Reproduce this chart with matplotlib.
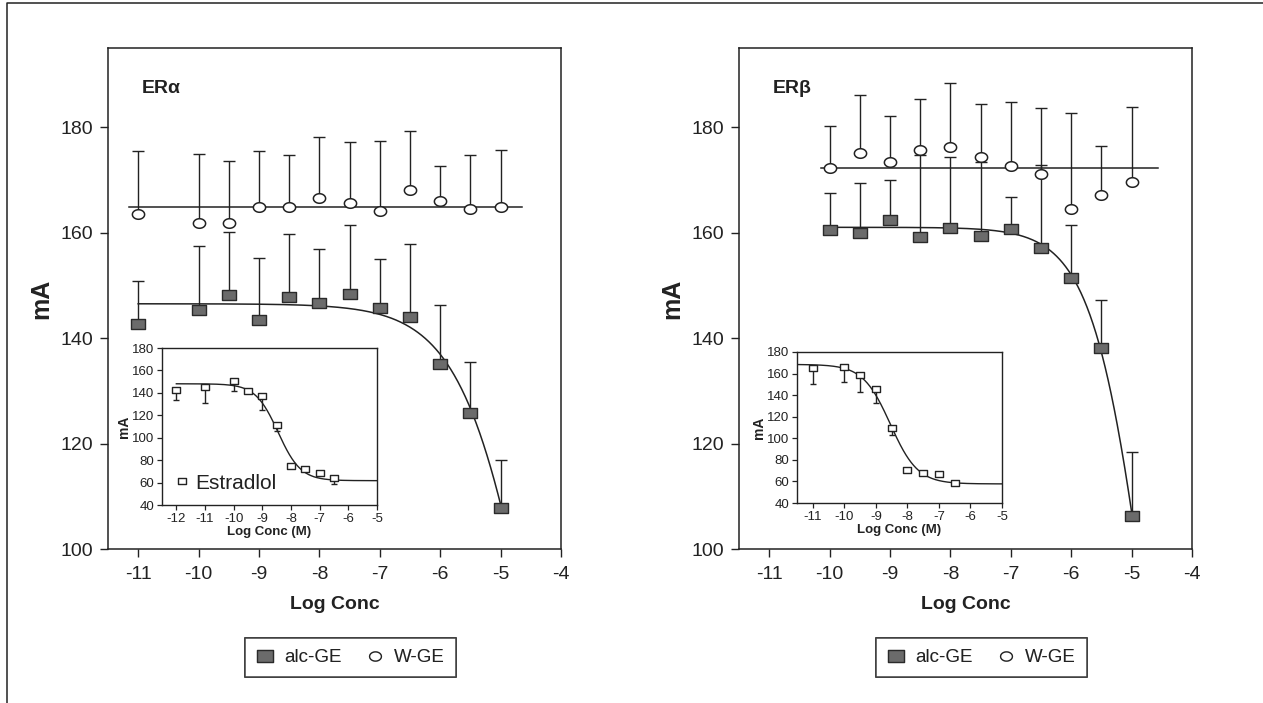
import numpy as np
import matplotlib
matplotlib.use('Agg')
import matplotlib.pyplot as plt
from matplotlib.path import Path
from matplotlib.lines import Line2D

plt.rcParams['font.family'] = ['Liberation Sans', 'DejaVu Sans']
plt.rcParams['text.color'] = '#222222'
plt.rcParams['axes.labelcolor'] = '#222222'
plt.rcParams['xtick.color'] = '#222222'
plt.rcParams['ytick.color'] = '#222222'

# ---------------- data ----------------
# ER alpha main panel
era_x = [-11, -10, -9.5, -9, -8.5, -8, -7.5, -7, -6.5, -6, -5.5, -5]
era_w_mean = [163.5, 161.9, 161.9, 164.9, 164.9, 166.6, 165.7, 164.0, 168.0, 166.0, 164.4, 164.9]
era_w_err = [11.9, 13.0, 11.6, 10.6, 9.8, 11.6, 11.4, 13.4, 11.3, 6.6, 10.3, 10.8]
era_a_mean = [142.6, 145.3, 148.1, 143.5, 147.8, 146.7, 148.4, 145.7, 144.0, 135.0, 125.8, 107.7]
era_a_err = [8.2, 12.2, 12.0, 11.6, 11.9, 10.1, 13.1, 9.3, 13.9, 11.2, 9.6, 9.2]
era_w_fit_level = 164.9
era_w_fit_span = (-11.15, -4.65)
era_a_fit = dict(top=146.5, bottom=0.0, logec50=-4.35, hill=0.7)
era_a_fit_span = (-11, -5)

# ER beta main panel
erb_x = [-10, -9.5, -9, -8.5, -8, -7.5, -7, -6.5, -6, -5.5, -5]
erb_w_mean = [172.3, 175.1, 173.3, 175.6, 176.3, 174.4, 172.7, 171.2, 164.4, 167.1, 169.6]
erb_w_err = [7.9, 10.9, 8.9, 9.7, 12.0, 9.9, 12.0, 12.5, 18.2, 9.3, 14.2]
erb_a_mean = [160.4, 160.0, 162.3, 159.1, 160.9, 159.3, 160.7, 157.1, 151.3, 138.2, 106.2]
erb_a_err = [7.1, 9.4, 7.7, 15.6, 13.4, 14.1, 6.1, 15.7, 10.2, 9.1, 12.2]
erb_w_fit_level = 172.3
erb_w_fit_span = (-10.14, -4.56)
erb_a_fit = dict(top=161.0, bottom=0.0, logec50=-4.68, hill=0.93)
erb_a_fit_span = (-10, -5)

# Estradiol insets
ina_x = [-12, -11, -10, -9.5, -9, -8.5, -8, -7.5, -7, -6.5]
ina_mean = [142.2, 145.2, 150.5, 141.3, 137.1, 111.5, 74.9, 71.9, 68.9, 63.8]
ina_err = [8.4, 14.3, 8.6, 0, 12.2, 5.1, 0, 0, 0, 5.0]
ina_fit = dict(top=148.1, bottom=61.7, logec50=-8.45, hill=1.1)
ina_fit_span = (-12, -5)

inb_x = [-11, -10, -9.5, -9, -8.5, -8, -7.5, -7, -6.5]
inb_mean = [164.8, 165.7, 158.9, 145.3, 109.1, 70.3, 67.9, 66.9, 58.6]
inb_err = [14.2, 13.9, 15.8, 13.0, 6.5, 0, 0, 0, 0]
inb_fit = dict(top=168.5, bottom=57.7, logec50=-8.54, hill=1.0)
inb_fit_span = (-11.5, -5)

main_xticks = [-11, -10, -9, -8, -7, -6, -5, -4]
main_yticks = [100, 120, 140, 160, 180]
inset_yticks = [40, 60, 80, 100, 120, 140, 160, 180]
labels_series = ['alc-GE', 'W-GE']

# ---------------- styles ----------------
INK = '#222222'
GRAY = '#6b6b6b'
th = np.linspace(0, 2 * np.pi, 80)
ELLIPSE = Path(np.column_stack([np.cos(th), 0.78 * np.sin(th)]), closed=True)
RECT = Path([(-1, -0.8), (1, -0.8), (1, 0.8), (-1, 0.8), (-1, -0.8)], closed=True)
RECT_SMALL = Path([(-1, -0.8), (1, -0.8), (1, 0.8), (-1, 0.8), (-1, -0.8)], closed=True)


def logistic(x, top, bottom, logec50, hill):
    return bottom + (top - bottom) / (1.0 + 10 ** ((x - logec50) * hill))


def bars(ax, x, m, e, direction, capw, lw):
    x = np.asarray(x, float); m = np.asarray(m, float); e = np.asarray(e, float)
    k = e > 0
    end = m + direction * e
    ax.vlines(x[k], m[k], end[k], color=INK, lw=lw, zorder=2)
    ax.plot(x[k], end[k], ls='none', marker='_', ms=capw, mew=lw, color=INK, zorder=2)


def main_panel(ax, x, wm, we, am, ae, wlev, wspan, afit, aspan, title):
    bars(ax, x, wm, we, +1, 9.0, 1.0)
    bars(ax, x, am, ae, +1, 9.0, 1.0)
    ax.plot(list(wspan), [wlev, wlev], color=INK, lw=1.1, zorder=3)
    xs = np.linspace(aspan[0], aspan[1], 400)
    ax.plot(xs, logistic(xs, **afit), color=INK, lw=1.1, zorder=3)
    ax.plot(x, wm, ls='none', marker=ELLIPSE, ms=8.8, mfc='white', mec=INK, mew=1.1, zorder=4)
    ax.plot(x, am, ls='none', marker=RECT, ms=9.6, mfc=GRAY, mec='#2a2a2a', mew=1.0, zorder=4)
    ax.set_xlim(-11.5, -4)
    ax.set_ylim(100, 195)
    ax.set_xticks(main_xticks)
    ax.set_xticklabels([str(t) for t in main_xticks])
    ax.set_yticks(main_yticks)
    ax.tick_params(direction='out', length=5.5, width=1.0, labelsize=14, pad=5)
    ax.tick_params(axis='x', pad=7)
    for s in ax.spines.values():
        s.set_linewidth(1.1)
        s.set_color(INK)
    ax.set_xlabel('Log Conc', fontsize=14, fontweight='bold', labelpad=9)
    ax.set_ylabel('mA', fontsize=18, fontweight='bold', labelpad=5)
    ax.text(0.074, 0.92, title, transform=ax.transAxes, fontsize=14,
            fontweight='bold', ha='left', va='center')


def inset_panel(ax, x, m, e, fit, span, xlim, xticks):
    bars(ax, x, m, e, -1, 4.8, 1.0)
    xs = np.linspace(span[0], span[1], 400)
    ax.plot(xs, logistic(xs, **fit), color=INK, lw=1.0, zorder=3)
    ax.plot(x, m, ls='none', marker=RECT_SMALL, ms=5.4, mfc='white', mec=INK, mew=1.0, zorder=4)
    ax.set_xlim(*xlim)
    ax.set_ylim(40, 180)
    ax.set_xticks(xticks)
    ax.set_xticklabels([str(t) for t in xticks])
    ax.set_yticks(inset_yticks)
    ax.tick_params(direction='out', length=3.5, width=0.9, labelsize=9.5, pad=2)
    for s in ax.spines.values():
        s.set_linewidth(1.0)
        s.set_color(INK)
    ax.set_xlabel('Log Conc (M)', fontsize=9.5, fontweight='bold', labelpad=1)
    ax.set_ylabel('mA', fontsize=10, fontweight='bold', labelpad=1)


W, H = 1263, 703
fig = plt.figure(figsize=(W / 100, H / 100), dpi=100)


def fr(l, t, r, b):
    return [l / W, 1 - b / H, (r - l) / W, (b - t) / H]


axA = fig.add_axes(fr(108, 48, 561, 549))
axB = fig.add_axes(fr(739, 48, 1192, 549))
main_panel(axA, era_x, era_w_mean, era_w_err, era_a_mean, era_a_err,
           era_w_fit_level, era_w_fit_span, era_a_fit, era_a_fit_span, 'ER\u03b1')
main_panel(axB, erb_x, erb_w_mean, erb_w_err, erb_a_mean, erb_a_err,
           erb_w_fit_level, erb_w_fit_span, erb_a_fit, erb_a_fit_span, 'ER\u03b2')

inA = fig.add_axes(fr(162, 348, 377, 505))
inB = fig.add_axes(fr(797, 352, 1002, 503))
inset_panel(inA, ina_x, ina_mean, ina_err, ina_fit, ina_fit_span, (-12.5, -5),
            [-12, -11, -10, -9, -8, -7, -6, -5])
inset_panel(inB, inb_x, inb_mean, inb_err, inb_fit, inb_fit_span, (-11.5, -5),
            [-11, -10, -9, -8, -7, -6, -5])

est_handle = Line2D([], [], ls='none', marker=RECT_SMALL, ms=5.4, mfc='white', mec=INK, mew=1.0)
inA.legend([est_handle], ['Estradlol'], loc='center left', bbox_to_anchor=(0.055, 0.14),
           frameon=False, fontsize=15, handlelength=0.8, handletextpad=0.25,
           borderpad=0, borderaxespad=0)

h_sq = Line2D([], [], ls='none', marker=RECT, ms=11, mfc=GRAY, mec='#2a2a2a', mew=1.0)
h_ci = Line2D([], [], ls='none', marker=ELLIPSE, ms=8.5, mfc='white', mec=INK, mew=1.0)
for cx in (350.5, 981.5):
    lg = fig.legend([h_sq, h_ci], labels_series, loc='center',
                    bbox_to_anchor=(cx / W, 1 - 657.5 / H), ncol=2, frameon=True,
                    fancybox=False, edgecolor=INK, fontsize=13.5, handlelength=1.0,
                    handletextpad=0.5, columnspacing=1.3, borderpad=0.6)
    lg.get_frame().set_linewidth(1.1)
    fig.add_artist(lg)

fig.add_artist(Line2D([7 / W, 7 / W, 1.0], [0.0, 1 - 3 / H, 1 - 3 / H],
                      transform=fig.transFigure, color=INK, lw=1.1))

fig.savefig('out.png', dpi=100, facecolor='white')
